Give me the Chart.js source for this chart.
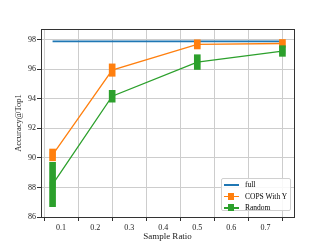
<!DOCTYPE html>
<html>
<head>
<meta charset="utf-8">
<script src="https://cdn.jsdelivr.net/npm/chart.js@4"></script>
<style>
  html, body { margin: 0; padding: 0; background: #fff; }
  #wrap { position: relative; width: 327px; height: 245px; }
  #legend {
    position: absolute; left: 221px; top: 178px; width: 70px; height: 33px;
    border: 1px solid #d0d0d0; border-radius: 2px; background: rgba(255,255,255,0.85);
    box-sizing: border-box; font-family: 'Liberation Serif', serif; font-size: 7.5px; color: #000;
  }
  .item { position: absolute; left: 1px; height: 11px; line-height: 11px; white-space: nowrap; }
  .sample { position: absolute; left: 1px; top: 5px; width: 15px; height: 1.5px; }
  .mark { position: absolute; left: 5px; top: 2px; width: 6px; height: 7px; }
  .txt { position: absolute; left: 22px; top: 0; }
</style>
</head>
<body>
<div id="wrap">
  <canvas id="accChart" width="327" height="245"></canvas>
  <div id="legend"></div>
</div>
<script>
const sampleRatios = [0.075, 0.25, 0.5, 0.75];
const fullAcc = [97.88, 97.88, 97.88, 97.88];
const copsMean = [90.2, 95.94, 97.68, 97.74];
const copsErr = [0.4, 0.42, 0.31, 0.27];
const randomMean = [88.2, 94.17, 96.48, 97.23];
const randomErr = [1.5, 0.4, 0.5, 0.36];
const seriesLabels = ['full', 'COPS With Y', 'Random'];
const seriesColors = ['#1f77b4', '#ff7f0e', '#2ca02c'];
const xTicks = [0.1, 0.2, 0.3, 0.4, 0.5, 0.6, 0.7];
const yTicks = [86, 88, 90, 92, 94, 96, 98];

function points(vals) {
    return sampleRatios.map((x, i) => ({ x: x, y: vals[i] }));
}
function errBars(mean, err) {
    return sampleRatios.map((x, i) => ({ x: x, y: [mean[i] - err[i], mean[i] + err[i]] }));
}

const frame = {
    id: 'frame',
    afterDraw: (chart) => {
        const { ctx, chartArea } = chart;
        ctx.save();
        ctx.strokeStyle = '#333';
        ctx.lineWidth = 1;
        ctx.strokeRect(Math.round(chartArea.left) + 0.5, Math.round(chartArea.top) + 0.5,
            Math.round(chartArea.right - chartArea.left), Math.round(chartArea.bottom - chartArea.top));
        ctx.restore();
    }
};

const serif = 'Liberation Serif, serif';

const ctx = document.getElementById('accChart').getContext('2d');
const accChart = new Chart(ctx, {
    type: 'line',
    data: {
        datasets: [
            {
                type: 'bar', label: 'randomErr', data: errBars(randomMean, randomErr),
                backgroundColor: seriesColors[2], barThickness: 6, grouped: false, order: 0
            },
            {
                label: seriesLabels[2], data: points(randomMean),
                borderColor: seriesColors[2], backgroundColor: seriesColors[2], borderWidth: 1.3,
                pointStyle: 'rect', pointRadius: 3, order: 1
            },
            {
                type: 'bar', label: 'copsErr', data: errBars(copsMean, copsErr),
                backgroundColor: seriesColors[1], barThickness: 6, grouped: false, order: 2
            },
            {
                label: seriesLabels[1], data: points(copsMean),
                borderColor: seriesColors[1], backgroundColor: seriesColors[1], borderWidth: 1.3,
                pointStyle: 'rect', pointRadius: 3, order: 3
            },
            {
                label: seriesLabels[0], data: points(fullAcc),
                borderColor: seriesColors[0], borderWidth: 1.6, pointRadius: 0, order: 4
            }
        ]
    },
    options: {
        responsive: false,
        animation: false,
        devicePixelRatio: 1,
        layout: { padding: { left: 14, right: 33, top: 29, bottom: 3 } },
        plugins: { legend: { display: false }, tooltip: { enabled: false } },
        scales: {
            x: {
                type: 'linear', min: 0.041, max: 0.784, offset: false,
                afterBuildTicks: (s) => { s.ticks = xTicks.map(v => ({ value: v })); },
                afterFit: (s) => { s.height = 25; },
                ticks: { font: { family: serif, size: 8 }, color: '#222', padding: 2,
                    callback: (v) => String(v) },
                grid: { color: '#cdcdcd', lineWidth: 1, tickLength: 4, tickColor: '#333' },
                border: { display: true, color: '#333' },
                title: { display: true, text: 'Sample Ratio', font: { family: serif, size: 9 }, color: '#222', padding: 0 }
            },
            y: {
                min: 86, max: 98.72,
                afterBuildTicks: (s) => { s.ticks = yTicks.map(v => ({ value: v })); },
                afterFit: (s) => { s.width = 27; },
                ticks: { font: { family: serif, size: 8 }, color: '#222', padding: 1 },
                grid: { color: '#cdcdcd', lineWidth: 1, tickLength: 4, tickColor: '#333' },
                border: { display: true, color: '#333' },
                title: { display: true, text: 'Accuracy@Top1', font: { family: serif, size: 8.5 }, color: '#222', padding: 0 }
            }
        }
    },
    plugins: [frame]
});

// legend inside the plot, lower right
const legendEl = document.getElementById('legend');
seriesLabels.forEach((label, i) => {
    const item = document.createElement('div');
    item.className = 'item';
    item.style.top = (i * 11.5) + 'px';
    let html = '<div class="sample" style="background:' + seriesColors[i] + '"></div>';
    if (i > 0) html += '<div class="mark" style="background:' + seriesColors[i] + '"></div>';
    html += '<span class="txt">' + label + '</span>';
    item.innerHTML = html;
    legendEl.appendChild(item);
});
</script>
</body>
</html>
